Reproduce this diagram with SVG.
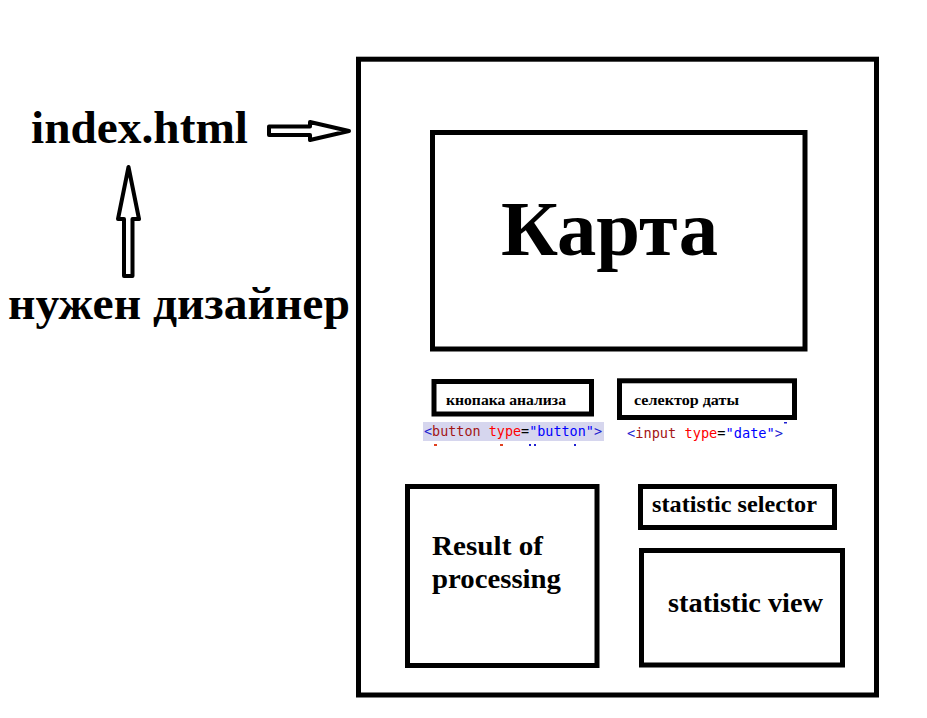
<svg xmlns="http://www.w3.org/2000/svg" width="927" height="718" viewBox="0 0 927 718">
<style>
.box{fill:#fff;stroke:#000;stroke-width:5}
.arr{fill:#fff;stroke:#000;stroke-width:4;stroke-linejoin:round}
.lbl{font-family:"Liberation Serif","Times New Roman",serif;font-weight:700;fill:#000}
.code{font-family:"DejaVu Sans Mono","Liberation Mono",monospace;font-size:13.5px}
.tag{fill:#2020d0}.el{fill:#a31515}.at{fill:#ff0000}.val{fill:#0000ff}.eq{fill:#000}
</style>
<rect width="927" height="718" fill="#fff"/>
<g id="connectors">
<polygon class="arr" points="269,126.5 310,126.5 310,122 349,131 310,140 310,135 269,135"/>
<polygon class="arr" points="124,276 124,219 118,219 128.5,167 139,219 132.5,219 132.5,276"/>
</g>
<g id="index">
<text class="lbl" x="31" y="143" font-size="47" textLength="217" lengthAdjust="spacingAndGlyphs">index.html</text>
</g>
<g id="designer">
<text class="lbl" x="8" y="319" font-size="46" textLength="342" lengthAdjust="spacingAndGlyphs">нужен дизайнер</text>
</g>
<g id="page">
<rect class="box" x="358.5" y="59.2" width="518" height="635.8"/>
</g>
<g id="map">
<rect class="box" x="432.5" y="132.5" width="372.5" height="216.5"/>
<text class="lbl" x="501" y="255" font-size="78" textLength="217" lengthAdjust="spacingAndGlyphs">Карта</text>
</g>
<g id="analyze-button">
<rect class="box" x="434" y="381.5" width="157.5" height="32.5"/>
<text class="lbl" x="446" y="405" font-size="14" textLength="120" lengthAdjust="spacingAndGlyphs">кнопака анализа</text>
<rect x="423" y="422" width="181" height="19" fill="#d6d6ee"/>
<text class="code" x="424" y="436" textLength="178" lengthAdjust="spacingAndGlyphs"><tspan class="tag">&lt;</tspan><tspan class="el">button</tspan> <tspan class="at">type</tspan><tspan class="eq">=</tspan><tspan class="val">"button"</tspan><tspan class="tag">&gt;</tspan></text>
<g>
<rect x="434" y="444" width="3" height="2" fill="#e04020"/>
<rect x="500" y="444" width="3" height="2" fill="#e04020"/>
<rect x="529" y="444" width="2" height="2" fill="#2020d0"/>
<rect x="534" y="444" width="2" height="2" fill="#2020d0"/>
<rect x="574" y="444" width="2" height="2" fill="#2020d0"/>
</g>
</g>
<g id="date-selector">
<rect class="box" x="619.5" y="380.8" width="175" height="36.7"/>
<text class="lbl" x="634" y="405" font-size="14" textLength="105" lengthAdjust="spacingAndGlyphs">селектор даты</text>
<text class="code" x="627" y="438" textLength="156" lengthAdjust="spacingAndGlyphs"><tspan class="tag">&lt;</tspan><tspan class="el">input</tspan> <tspan class="at">type</tspan><tspan class="eq">=</tspan><tspan class="val">"date"</tspan><tspan class="tag">&gt;</tspan></text>
<rect x="784" y="422" width="3" height="1.5" fill="#2020d0"/>
</g>
<g id="result">
<rect class="box" x="407.5" y="486.5" width="189.5" height="179"/>
<text class="lbl" x="432" y="555" font-size="27" textLength="111" lengthAdjust="spacingAndGlyphs">Result of</text>
<text class="lbl" x="432" y="588" font-size="27" textLength="129" lengthAdjust="spacingAndGlyphs">processing</text>
</g>
<g id="stat-selector">
<rect class="box" x="640.5" y="486.5" width="194" height="41"/>
<text class="lbl" x="652" y="512" font-size="23" textLength="165" lengthAdjust="spacingAndGlyphs">statistic selector</text>
</g>
<g id="stat-view">
<rect class="box" x="641.5" y="550.5" width="201" height="114.5"/>
<text class="lbl" x="668" y="612" font-size="27" textLength="155" lengthAdjust="spacingAndGlyphs">statistic view</text>
</g>
</svg>
